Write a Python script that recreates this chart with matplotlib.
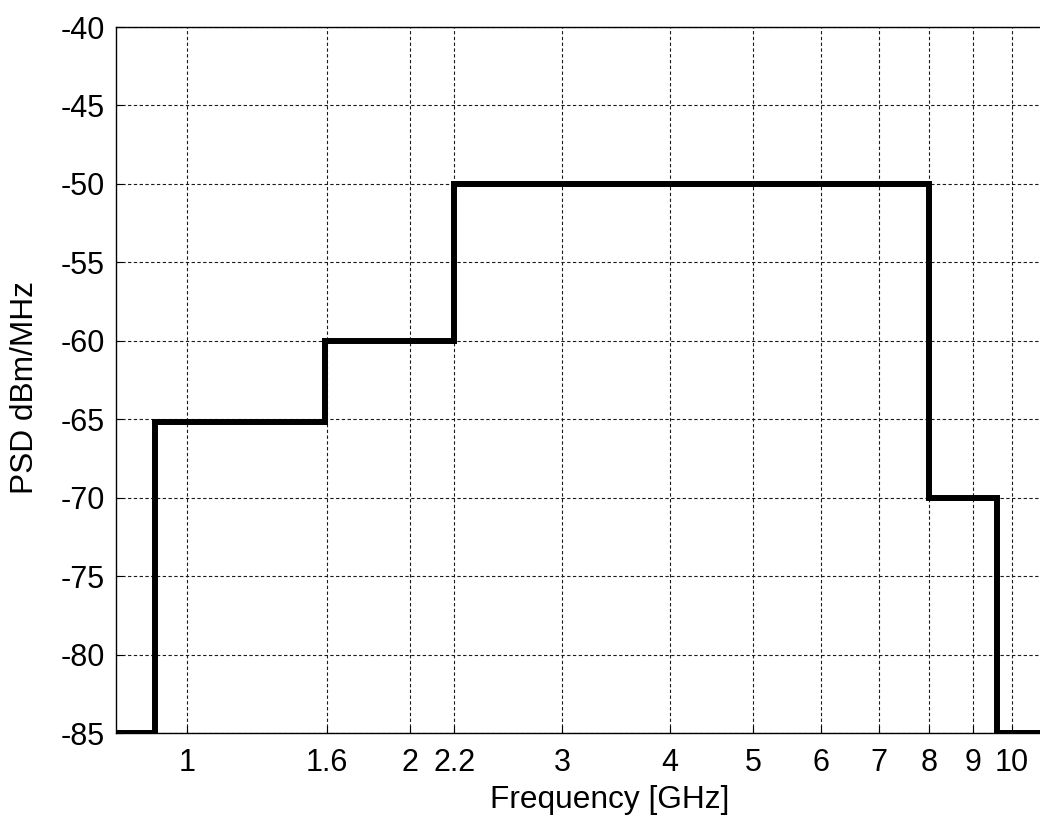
import matplotlib
matplotlib.use("Agg")
import matplotlib.pyplot as plt
from matplotlib.ticker import NullLocator

plt.rcParams['font.family'] = ['Liberation Sans', 'DejaVu Sans']
plt.rcParams['axes.unicode_minus'] = False

# spectral mask: band edges in GHz and PSD level in each band
edges = [0.91, 1.01, 1.59, 2.25, 8.0, 9.6, 11.0]
levels = [-85, -65.2, -60, -50, -70, -85]

# tick positions as they sit on the original axis, and their labels
xticks = [1.1, 1.6, 2.0, 2.25, 3, 4, 5, 6, 7, 8, 9, 10]
xlabels = ['1', '1.6', '2', '2.2', '3', '4', '5', '6', '7', '8', '9', '10']
yticks = [-85, -80, -75, -70, -65, -60, -55, -50, -45, -40]

fig = plt.figure(figsize=(10.4, 8.16), dpi=100)
# axes runs slightly past the right edge of the figure, as in the original
ax = fig.add_axes([0.1115, 0.1017, 0.896, 0.8652])

ax.stairs(levels, edges, baseline=None, color='k', linewidth=4.3, zorder=3)

ax.set_xscale('log')
ax.set_xlim(edges[0], edges[-1])
ax.set_ylim(-85, -40)

ax.set_xticks(xticks)
ax.set_xticklabels(xlabels)
ax.xaxis.set_minor_locator(NullLocator())
ax.set_yticks(yticks)
ax.set_yticklabels([str(v) for v in yticks])

ax.grid(True, color='0.1', linewidth=0.8, linestyle=(0, (3, 2.2)))
ax.tick_params(axis='both', direction='in', length=5, width=0.8, labelsize=22, colors='k')
ax.tick_params(axis='x', pad=11)
ax.tick_params(axis='y', pad=8)
ax.tick_params(top=False, right=False)

for s in ax.spines.values():
    s.set_linewidth(1.0)
    s.set_color('k')
ax.spines['right'].set_visible(False)

ax.set_xlabel('Frequency [GHz]', fontsize=22.8)
ax.xaxis.set_label_coords(0.530, -0.074)
ax.set_ylabel('PSD dBm/MHz', fontsize=22.8)
ax.yaxis.set_label_coords(-0.081, 0.489)

fig.savefig('out.png', dpi=100)
